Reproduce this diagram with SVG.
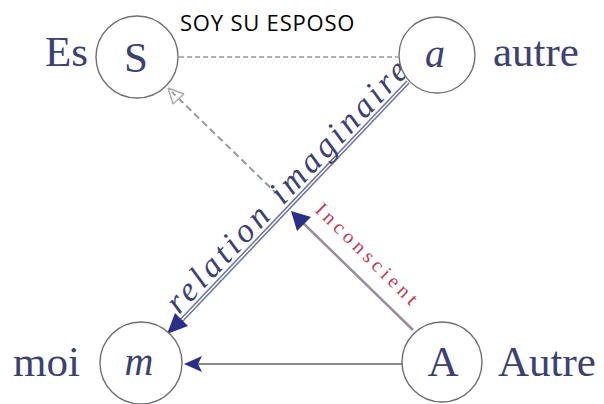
<svg xmlns="http://www.w3.org/2000/svg" width="604" height="404" viewBox="0 0 604 404">
<style>
.node{fill:#fff;stroke:#707074;stroke-width:1.4}
.lbl{font-family:"Liberation Serif",serif;fill:#3c4170;font-size:43px}
.sym{font-family:"Liberation Serif",serif;fill:#3c4170;font-size:43px;text-anchor:middle}
.it{font-style:italic;font-size:40px}
.rel{font-family:"Liberation Serif",serif;font-style:italic;font-size:34px;fill:#3c4170;letter-spacing:4px}
.inc{font-family:"Liberation Serif",serif;font-size:20px;fill:#c03a55;letter-spacing:4.3px}
.cap{font-family:"Open Sans","Liberation Sans",sans-serif;font-size:22px;fill:#000;letter-spacing:0.8px}
</style>
<rect width="604" height="404" fill="#fff"/>
<g id="connectors">
<line x1="179" y1="57" x2="398" y2="57" stroke="#9a9a9a" stroke-width="1.6" stroke-dasharray="5,3"/>
<line x1="278" y1="195" x2="172" y2="92" stroke="#9a9a9a" stroke-width="2" stroke-dasharray="7,4"/>
<path d="M168,88 L184,94 M168,88 L173,104 M184,94 L173,104" stroke="#aaa" stroke-width="1.4" fill="none"/>
<line x1="408" y1="82" x2="178" y2="324" stroke="#6d72a0" stroke-width="4.5"/>
<line x1="408" y1="82" x2="178" y2="324" stroke="#fff" stroke-width="1.5"/>
<path d="M167,334 L175,313 L188,326 Z" fill="#2c2f88"/>
<line x1="413" y1="330" x2="301" y2="221" stroke="#9a8e98" stroke-width="2.5"/>
<path d="M291,211 L311,217 L297,231 Z" fill="#2c2f88"/>
<line x1="402" y1="364" x2="198" y2="364" stroke="#8a8a8e" stroke-width="2"/>
<path d="M184,364 L202,356 L198,364 L202,372 Z" fill="#2c2f88"/>
<g transform="translate(179,315) rotate(-46.4)"><text class="rel" x="0" y="0">relation imaginaire</text></g>
<g transform="translate(314,211) rotate(44.7)"><text class="inc" x="0" y="0">Inconscient</text></g>
</g>
<g id="node-S">
<circle class="node" cx="137" cy="57" r="41"/>
<text class="sym" x="136" y="72">S</text>
<text class="lbl" x="45" y="66">Es</text>
</g>
<g id="node-a">
<circle class="node" cx="437" cy="55" r="38"/>
<text class="sym it" x="435" y="67">a</text>
<text class="lbl" x="493" y="66">autre</text>
</g>
<g id="node-m">
<circle class="node" cx="141" cy="363" r="41"/>
<text class="sym it" x="139" y="375">m</text>
<text class="lbl" x="13" y="376">moi</text>
</g>
<g id="node-A">
<circle class="node" cx="442" cy="362" r="40"/>
<text class="sym" x="443" y="376">A</text>
<text class="lbl" x="498" y="376">Autre</text>
</g>
<text class="cap" x="180" y="31">SOY SU ESPOSO</text>
</svg>
